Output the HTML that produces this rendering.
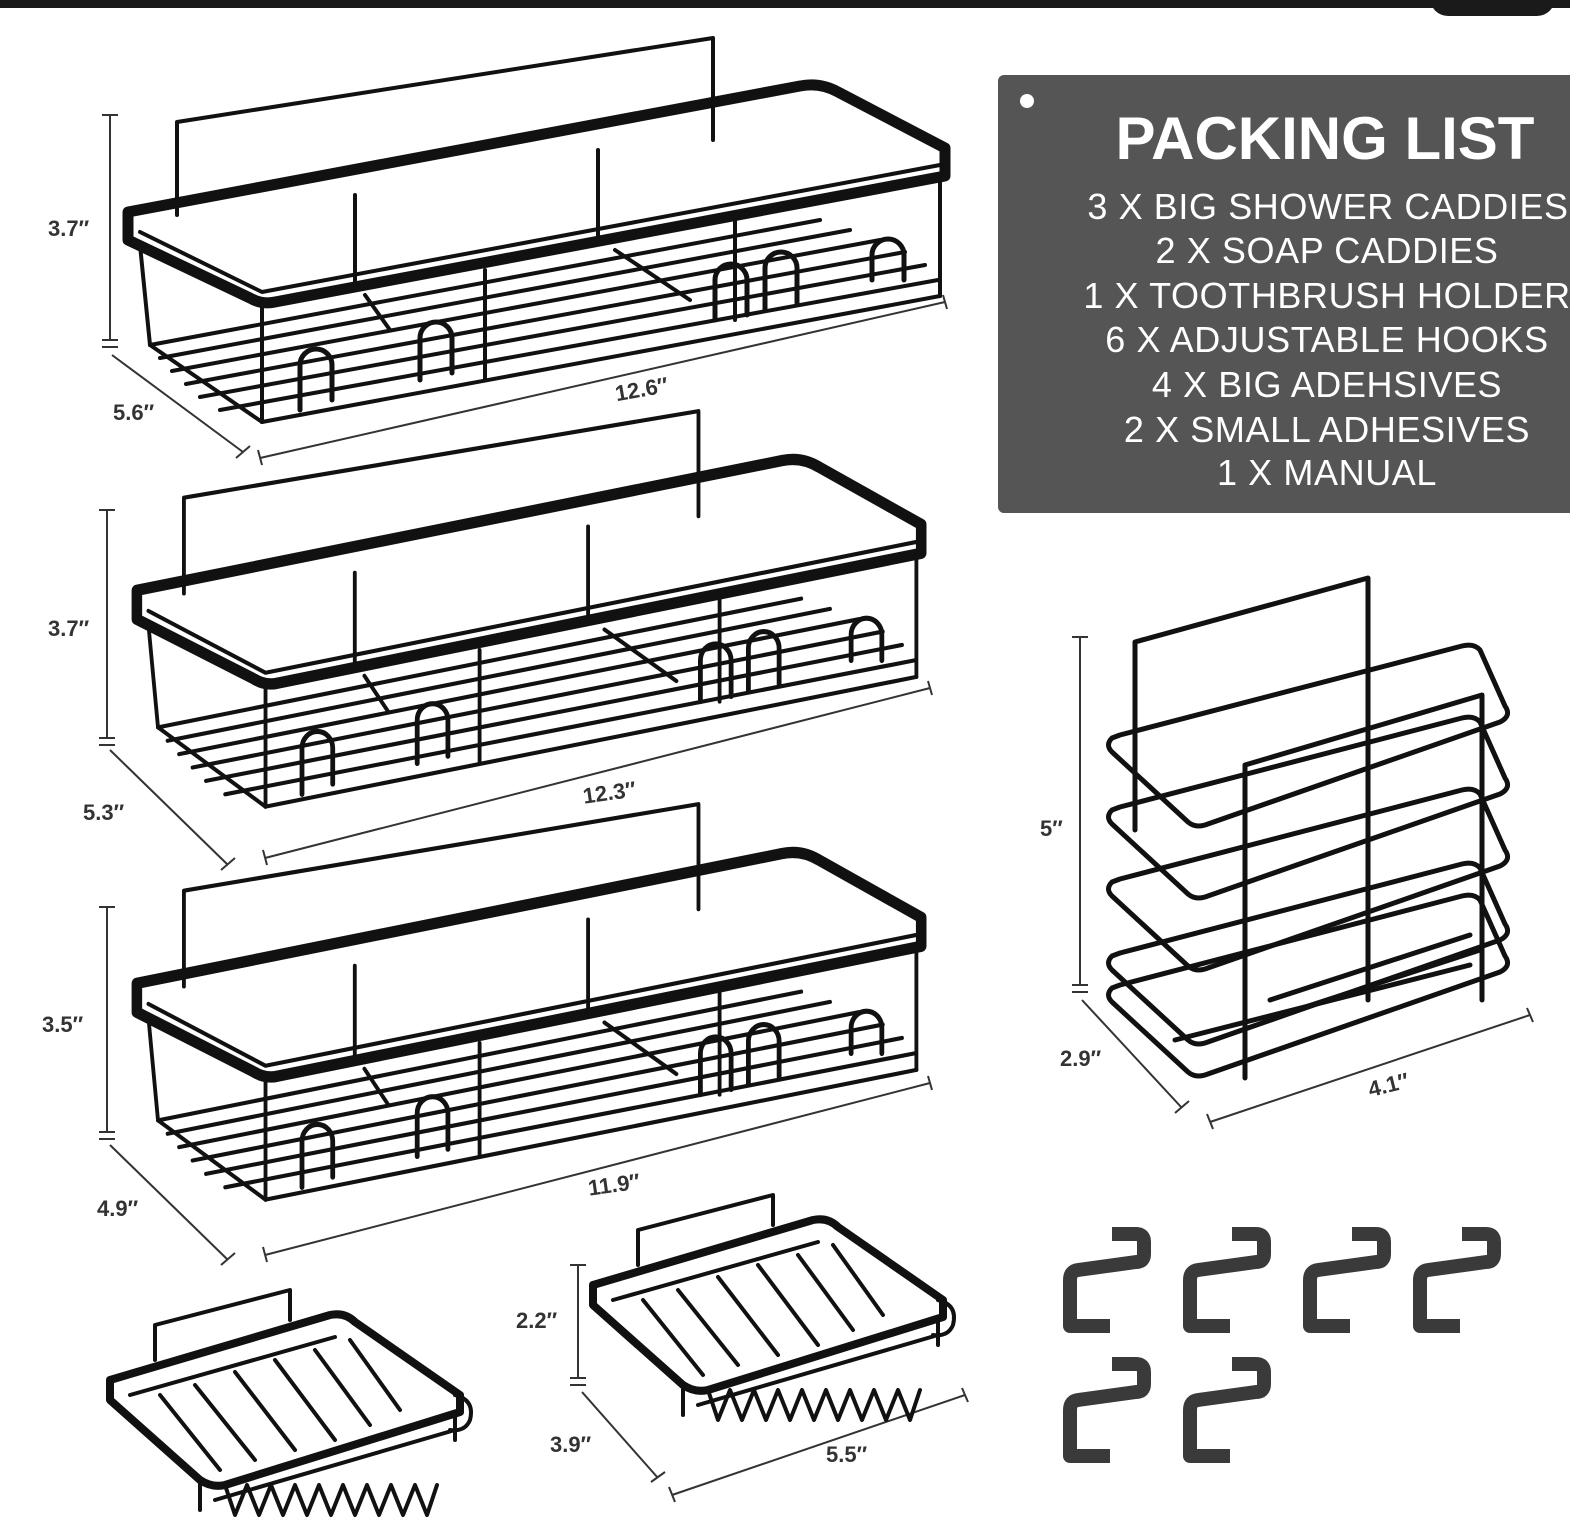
<!DOCTYPE html>
<html><head><meta charset="utf-8"><style>
html,body{margin:0;padding:0;background:#fff;}
svg{display:block}
text{font-family:"Liberation Sans",sans-serif;}
.d{font-size:22px;font-weight:bold;fill:#333}
.dim{stroke:#333;stroke-width:2;fill:none}
.w{fill:none;stroke:#111;stroke-linecap:round;stroke-linejoin:round}
.hk{fill:none;stroke:#3a3a3a;stroke-width:14;stroke-linejoin:round;stroke-linecap:butt}
</style></head><body>
<svg width="1570" height="1530" viewBox="0 0 1570 1530" xmlns="http://www.w3.org/2000/svg">
<rect x="0" y="0" width="1570" height="8" fill="#1a1a1a"/>
<rect x="1430" y="-20" width="125" height="36" rx="18" fill="#1a1a1a"/>

<!-- packing list -->
<rect x="998" y="75" width="580" height="438" rx="6" fill="#555"/>
<circle cx="1027" cy="101" r="7" fill="#fff"/>
<g fill="#fff" text-anchor="middle">
<text x="1325" y="159" font-size="60" font-weight="bold">PACKING LIST</text>
<g font-size="36" letter-spacing="0.6">
<text x="1328" y="219">3 X BIG SHOWER CADDIES</text>
<text x="1327" y="263">2 X SOAP CADDIES</text>
<text x="1327" y="308">1 X TOOTHBRUSH HOLDER</text>
<text x="1327" y="352">6 X ADJUSTABLE HOOKS</text>
<text x="1327" y="397">4 X BIG ADEHSIVES</text>
<text x="1327" y="442">2 X SMALL ADHESIVES</text>
<text x="1327" y="485">1 X MANUAL</text>
</g></g>

<defs>
<g id="caddy">
 <polyline class="w" stroke-width="4" points="177,215 177,122 713,38 713,140"/>
 <line class="w" stroke-width="4" x1="355" y1="195" x2="355" y2="285"/>
 <line class="w" stroke-width="4" x1="598" y1="150" x2="598" y2="240"/>
 <g class="w" stroke-width="4">
  <line x1="150" y1="345" x2="820" y2="220"/>
  <line x1="160" y1="358" x2="850" y2="230"/>
  <line x1="172" y1="371" x2="880" y2="240"/>
  <line x1="186" y1="384" x2="905" y2="252"/>
  <line x1="200" y1="397" x2="925" y2="265"/>
  <line x1="220" y1="410" x2="938" y2="280"/>
  <line x1="262" y1="422" x2="940" y2="296"/>
  <line x1="150" y1="345" x2="262" y2="422"/>
  <line x1="485" y1="270" x2="485" y2="380"/>
  <line x1="365" y1="295" x2="390" y2="330"/>
  <line x1="615" y1="250" x2="690" y2="300"/>
  <line x1="140" y1="245" x2="150" y2="345"/>
  <line x1="262" y1="306" x2="262" y2="422"/>
  <line x1="940" y1="178" x2="940" y2="296"/>
  <line x1="735" y1="220" x2="735" y2="320"/>
 </g>
 <g class="w" stroke-width="5">
  <path d="M300,410 v-45 a16,16 0 0 1 32,0 v35"/>
  <path d="M420,380 v-42 a16,16 0 0 1 32,0 v35"/>
  <path d="M715,320 v-40 a16,16 0 0 1 32,0 v35"/>
  <path d="M765,310 v-42 a16,16 0 0 1 32,0 v35"/>
  <path d="M872,280 v-25 a16,16 0 0 1 32,0 v25"/>
 </g>
 <path class="w" stroke-width="11" d="M128,212 L800,86 Q820,82 838,92 L945,148 L945,176 L275,302 Q262,305 250,298 L128,240 Z"/>
 <path class="w" stroke-width="4" d="M140,232 L262,292 L940,165"/>
</g>
<g id="hook">
 <path class="hk" d="M52,12 H76 Q84,12 84,20 V32 Q84,40 76,40 L18,48 Q10,49 10,58 V104 H50"/>
</g>
<g id="soap">
 <polyline class="w" stroke-width="4" points="155,1360 155,1325 290,1290 290,1320"/>
 <path class="w" stroke-width="8" d="M110,1380 L330,1315 Q345,1312 355,1322 L460,1395 L460,1412 L225,1485 Q212,1488 200,1480 L110,1400 Z"/>
 <g class="w" stroke-width="4">
  <line x1="130" y1="1395" x2="335" y2="1337"/>
  <line x1="200" y1="1480" x2="200" y2="1510"/>
  <line x1="455" y1="1412" x2="455" y2="1440"/>
  <line x1="215" y1="1500" x2="455" y2="1430"/>
  <path d="M160,1395 L220,1470 M195,1385 L255,1460 M235,1372 L295,1450 M275,1360 L335,1440 M315,1350 L370,1425 M350,1340 L400,1410"/>
  <path d="M225,1485 l10,30 l12,-30 l12,30 l12,-30 l12,30 l12,-30 l12,30 l12,-30 l12,30 l12,-30 l12,30 l12,-30 l12,30 l12,-30 l12,30 l12,-30 l12,30 l10,-30"/>
  <path d="M455,1395 Q475,1400 470,1420 Q465,1432 450,1430"/>
 </g>
</g>
</defs>

<use href="#caddy"/>
<use href="#caddy" transform="translate(14,372) scale(0.96,1.03)"/>
<use href="#caddy" transform="translate(14,765) scale(0.96,1.03)"/>

<g class="dim">
<line x1="110" y1="115" x2="110" y2="340"/><line x1="102" y1="115" x2="118" y2="115"/><line x1="102" y1="340" x2="118" y2="340"/><line x1="102" y1="347" x2="118" y2="347"/>
<line x1="112" y1="355" x2="243" y2="452"/><line x1="236" y1="458" x2="250" y2="446"/>
<line x1="260" y1="458" x2="945" y2="302"/><line x1="258" y1="450" x2="262" y2="465"/><line x1="943" y1="295" x2="947" y2="309"/>
<line x1="107" y1="510" x2="107" y2="738"/><line x1="99" y1="510" x2="115" y2="510"/><line x1="99" y1="738" x2="115" y2="738"/><line x1="99" y1="745" x2="115" y2="745"/>
<line x1="110" y1="750" x2="228" y2="865"/><line x1="221" y1="870" x2="235" y2="858"/>
<line x1="265" y1="858" x2="930" y2="688"/><line x1="263" y1="850" x2="267" y2="865"/><line x1="928" y1="681" x2="932" y2="695"/>
<line x1="107" y1="907" x2="107" y2="1132"/><line x1="99" y1="907" x2="115" y2="907"/><line x1="99" y1="1132" x2="115" y2="1132"/><line x1="99" y1="1139" x2="115" y2="1139"/>
<line x1="110" y1="1145" x2="228" y2="1260"/><line x1="221" y1="1265" x2="235" y2="1253"/>
<line x1="265" y1="1255" x2="930" y2="1083"/><line x1="263" y1="1247" x2="267" y2="1262"/><line x1="928" y1="1076" x2="932" y2="1090"/>
<line x1="1080" y1="637" x2="1080" y2="985"/><line x1="1072" y1="637" x2="1088" y2="637"/><line x1="1072" y1="985" x2="1088" y2="985"/><line x1="1072" y1="992" x2="1088" y2="992"/>
<line x1="1082" y1="1000" x2="1182" y2="1108"/><line x1="1175" y1="1113" x2="1189" y2="1101"/>
<line x1="1210" y1="1122" x2="1530" y2="1015"/><line x1="1207" y1="1114" x2="1213" y2="1129"/><line x1="1527" y1="1008" x2="1533" y2="1022"/>
<line x1="578" y1="1265" x2="578" y2="1378"/><line x1="570" y1="1265" x2="586" y2="1265"/><line x1="570" y1="1378" x2="586" y2="1378"/><line x1="570" y1="1385" x2="586" y2="1385"/>
<line x1="582" y1="1392" x2="658" y2="1478"/><line x1="651" y1="1482" x2="665" y2="1472"/>
<line x1="672" y1="1495" x2="965" y2="1395"/><line x1="669" y1="1487" x2="675" y2="1502"/><line x1="962" y1="1388" x2="968" y2="1402"/>
</g>
<g class="d">
<text x="48" y="236">3.7″</text><text x="113" y="420">5.6″</text><text x="615" y="397" transform="rotate(-10 640 390)">12.6″</text>
<text x="48" y="636">3.7″</text><text x="83" y="820">5.3″</text><text x="583" y="800" transform="rotate(-8 610 795)">12.3″</text>
<text x="42" y="1032">3.5″</text><text x="97" y="1216">4.9″</text><text x="588" y="1192" transform="rotate(-8 615 1185)">11.9″</text>
<text x="1040" y="836">5″</text><text x="1060" y="1066">2.9″</text><text x="1368" y="1092" transform="rotate(-14 1390 1085)">4.1″</text>
<text x="516" y="1328">2.2″</text><text x="550" y="1452">3.9″</text><text x="826" y="1462">5.5″</text>
</g>

<g class="w" stroke-width="5">
 <polyline points="1135,830 1135,642 1368,578 1368,1000"/>
 <g id="fr"><path d="M1112,738 Q1105,745 1112,752 L1188,822 Q1195,828 1205,825 L1500,722 Q1512,716 1505,706 L1480,650 Q1474,643 1462,646 L1120,735 Z"/></g>
 <use href="#fr" transform="translate(0,72)"/>
 <use href="#fr" transform="translate(0,144)"/>
 <use href="#fr" transform="translate(0,218)"/>
 <use href="#fr" transform="translate(0,250)"/>
 <polyline points="1245,1078 1245,765 1482,695 1482,1000"/>
 <line x1="1270" y1="1000" x2="1470" y2="935"/><line x1="1290" y1="1012" x2="1480" y2="950"/><line x1="1175" y1="1040" x2="1470" y2="965"/>
</g>

<use href="#soap"/>
<use href="#soap" transform="translate(483,-95)"/>

<use href="#hook" transform="translate(1060,1222)"/>
<use href="#hook" transform="translate(1180,1222)"/>
<use href="#hook" transform="translate(1300,1222)"/>
<use href="#hook" transform="translate(1410,1222)"/>
<use href="#hook" transform="translate(1060,1352)"/>
<use href="#hook" transform="translate(1180,1352)"/>
</svg>
</body></html>
